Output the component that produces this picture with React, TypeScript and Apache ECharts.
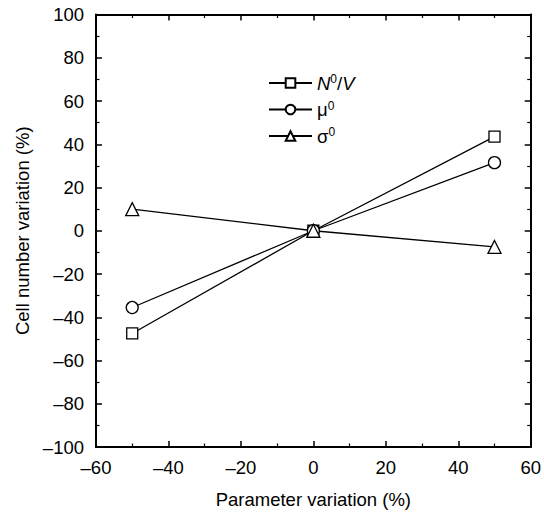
import React, { useEffect, useRef } from "react";
import * as echarts from "echarts";

const paramX = [-50, 0, 50];
const nvValues = [-47.5, 0, 43.5];
const muValues = [-35.5, 0, 31.5];
const sigmaValues = [10, 0, -7.5];
const seriesNames = ["N0V", "mu", "sigma"];
const legendLabels = ["{i|N}{s|0}{n|/}{i|V}", "{n|\u03bc}{s|0}", "{n|\u03c3}{s|0}"];

const FONT = "'Liberation Sans', Arial, Helvetica, sans-serif";

function fmt(v: number) {
  return String(v).replace("-", "\u2013");
}

export default function App() {
  const ref = useRef<HTMLDivElement>(null);
  useEffect(() => {
    if (!ref.current) return;
    const chart = echarts.init(ref.current, undefined, { renderer: "svg" });
    const axisCommon = {
      min: -60,
      max: 60,
      interval: 20,
      axisLine: { show: true, onZero: false, lineStyle: { color: "#000", width: 2 } },
      axisTick: { show: true, inside: true, length: 6, lineStyle: { color: "#000", width: 1.5 } },
      minorTick: { show: true, splitNumber: 2, length: 3.5, lineStyle: { color: "#000", width: 1.2 } },
      splitLine: { show: false },
    };
    const mk = (name: string, data: number[], symbol: string, size: number) => ({
      type: "line",
      name,
      data: paramX.map((x, i) => [x, data[i]]),
      symbol,
      symbolSize: size,
      showAllSymbol: true,
      lineStyle: { color: "#000", width: 1.3 },
      itemStyle: { color: "#fff", borderColor: "#000", borderWidth: 1.3 },
      z: 3,
    });
    chart.setOption({
      animation: false,
      backgroundColor: "#fff",
      textStyle: { fontFamily: FONT },
      grid: { left: 96, right: 12.5, top: 14.5, bottom: 64, containLabel: false },
      xAxis: [
        {
          ...axisCommon,
          type: "value",
          position: "bottom",
          name: "Parameter variation (%)",
          nameLocation: "middle",
          nameGap: 43,
          nameTextStyle: { fontSize: 18.5, color: "#000", fontFamily: FONT },
          axisLabel: { fontSize: 18.5, color: "#000", margin: 11, formatter: fmt, fontFamily: FONT },
        },
        {
          ...axisCommon,
          type: "value",
          position: "top",
          axisLabel: { show: false },
        },
      ],
      yAxis: [
        {
          ...axisCommon,
          min: -100,
          max: 100,
          interval: 20,
          type: "value",
          position: "left",
          name: "Cell number variation (%)",
          nameLocation: "middle",
          nameGap: 59,
          nameTextStyle: { fontSize: 18.5, color: "#000", fontFamily: FONT },
          axisLabel: { fontSize: 18.5, color: "#000", margin: 12, formatter: fmt, fontFamily: FONT },
        },
        {
          ...axisCommon,
          min: -100,
          max: 100,
          interval: 20,
          type: "value",
          position: "right",
          axisLabel: { show: false },
        },
      ],
      legend: {
        left: 263,
        top: 68,
        orient: "vertical",
        itemGap: 7,
        itemWidth: 43,
        itemHeight: 12,
        data: seriesNames,
        formatter: (name: string) => legendLabels[seriesNames.indexOf(name)],
        textStyle: {
          color: "#000",
          fontFamily: FONT,
          rich: {
            i: { fontSize: 18.5, fontStyle: "italic", fontFamily: FONT, color: "#000" },
            n: { fontSize: 18.5, fontFamily: FONT, color: "#000" },
            s: { fontSize: 12, fontFamily: FONT, color: "#000", verticalAlign: "top", padding: [0, 0, 8, 0] },
          },
        },
      },
      series: [
        mk(seriesNames[0], nvValues, "rect", 11),
        mk(seriesNames[1], muValues, "circle", 12),
        mk(seriesNames[2], sigmaValues, "triangle", 13),
      ],
    });
    return () => chart.dispose();
  }, []);
  return (
    <div
      ref={ref}
      style={{ position: "absolute", left: 0, top: 0, width: 544, height: 514 }}
    />
  );
}
